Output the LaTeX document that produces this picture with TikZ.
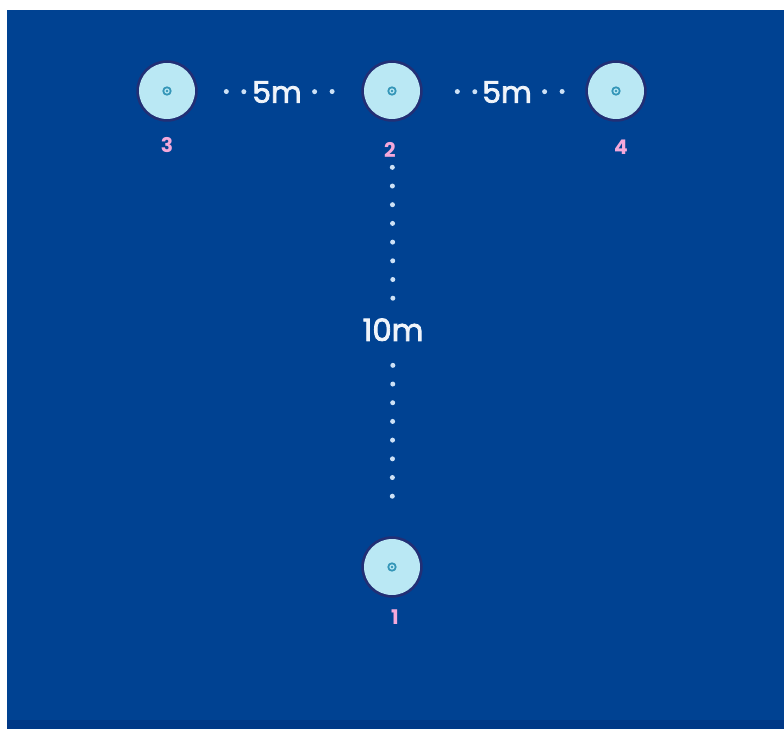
\documentclass[tikz,border=0pt]{standalone}
\usepackage{fontspec}
\setmainfont{Poppins}
\newfontfamily\distfont[FakeBold=2.6]{Poppins}
\definecolor{field}{RGB}{0,66,146}
\definecolor{fieldedge}{RGB}{0,56,134}
\definecolor{padfill}{RGB}{186,232,244}
\definecolor{padrim}{RGB}{40,44,112}
\definecolor{padmark}{RGB}{52,150,184}
\definecolor{tagpink}{RGB}{244,168,218}
\definecolor{disttext}{RGB}{240,244,250}
\definecolor{dotblue}{RGB}{205,225,246}
\def \yrow{91}

\tikzset{
  pad/.style={circle, fill=padfill, minimum size=1.12cm, inner sep=0pt,
    preaction={draw=padrim, line width=0.11cm, opacity=0.85},
    path picture={
      \draw[padmark, line width=0.035cm] (path picture bounding box.center) circle (0.075cm);
      \fill[padmark] (path picture bounding box.center) circle (0.027cm);
    }},
  tag/.style={text=tagpink, font=\bfseries\fontsize{11.5}{13}\selectfont},
  dist/.style={text=disttext, font=\distfont\fontsize{17}{20}\selectfont, inner sep=0pt,
    minimum width=0.94cm},
  hdots/.style={dotblue, line width=0.1cm, line cap=round,
    dash pattern=on 0pt off 0.35cm},
  vdots/.style={dotblue, line width=0.1cm, line cap=round,
    dash pattern=on 0pt off 0.374cm}
}

\begin{document}
\begin{tikzpicture}[x=0.02cm, y=-0.02cm]
  \useasboundingbox (0,0) rectangle (784,729);
  \fill[white] (0,0) rectangle (784,729);
  \fill[field] (7,10) rectangle (784,729);
  \fill[fieldedge] (7,720) rectangle (784,729);

  % sensors
  \node[pad] (N3) at (167,\yrow) {};
  \node[pad] (N2) at (392,\yrow) {};
  \node[pad] (N4) at (616,\yrow) {};
  \node[pad] (N1) at (392,567) {};

  \node[tag] (T3) at (167,145) {3};
  \node[tag] (T2) at (390,150) {2};
  \node[tag] (T4) at (621,147) {4};
  \node[tag] (T1) at (395,617) {1};

  % distances
  \node[dist] (D32) at (277,92) {5m};
  \node[dist] (D24) at (507,92) {5m};
  \node[dist, font=\distfont\fontsize{17.5}{20}\selectfont, text height=0.44cm,
    text depth=0pt] (D21) at (393,330) {10m};

  \draw[hdots, shorten <=0.62cm, shorten >=0.12cm] (N3) -- (D32);
  \draw[hdots, shorten <=0.25cm, shorten >=0.58cm] (D32) -- (N2);
  \draw[hdots, shorten <=0.74cm, shorten >=0.12cm] (N2) -- (D24);
  \draw[hdots, shorten <=0.25cm, shorten >=0.45cm] (D24) -- (N4);
  \draw[vdots, shorten <=0.96cm, shorten >=0.36cm] (N2) -- (D21);
  \draw[vdots, shorten <=0.48cm, shorten >=0.8cm] (D21) -- (N1);
\end{tikzpicture}
\end{document}
